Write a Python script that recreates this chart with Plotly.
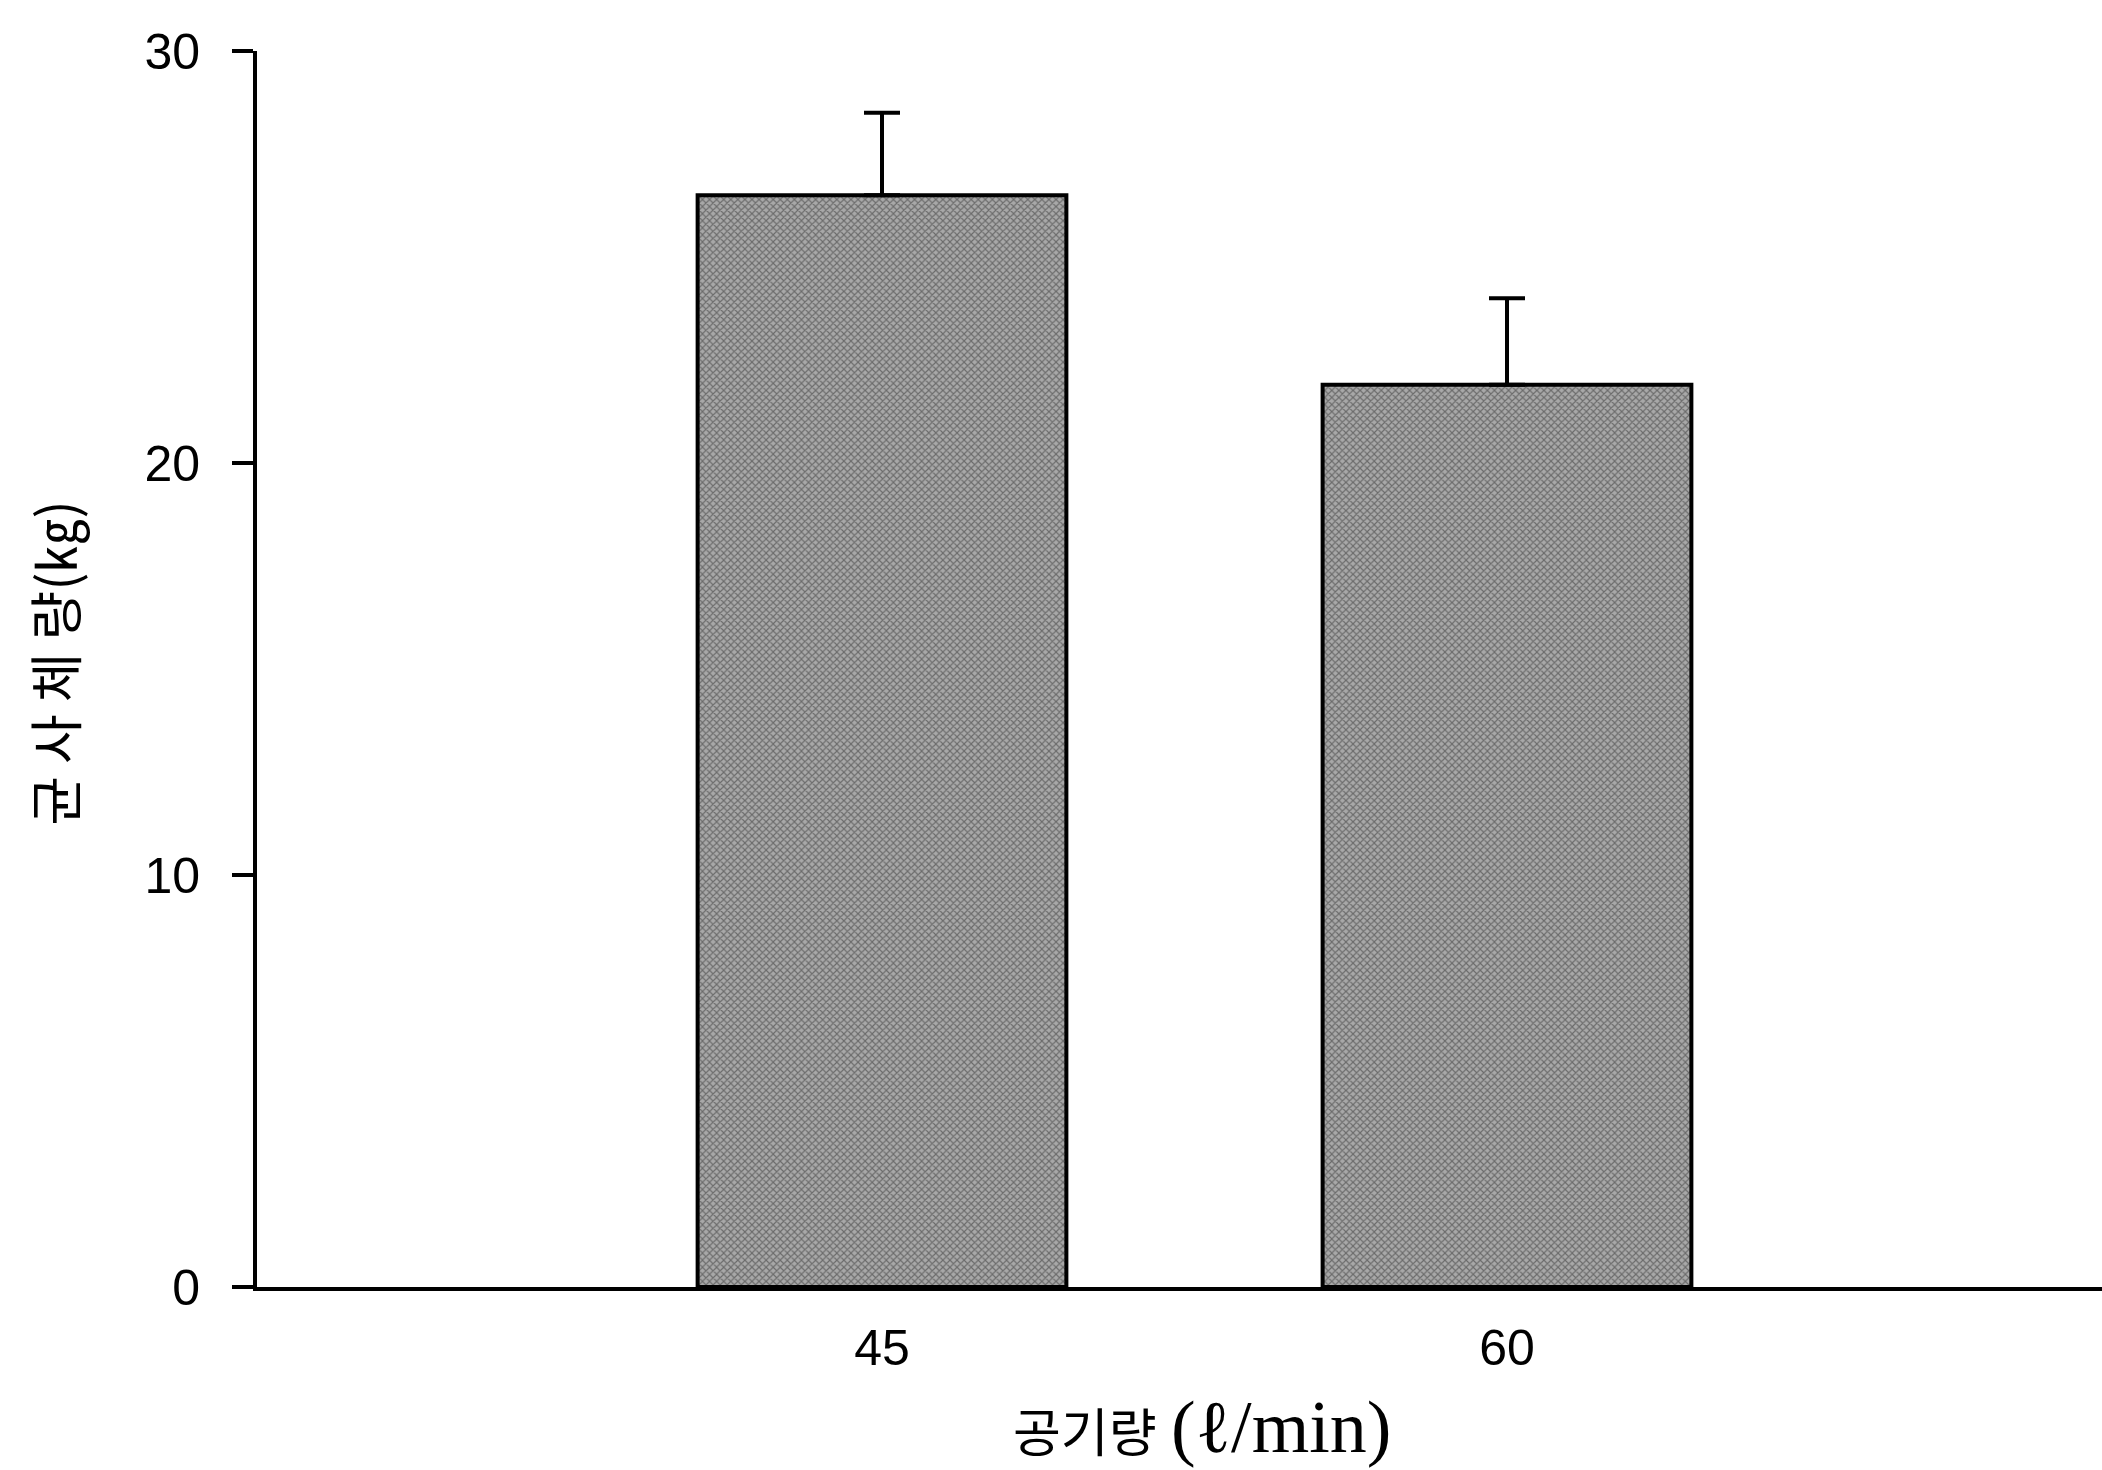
import plotly.graph_objects as go

# Mycelium yield by aeration rate
air_flow = ["45", "60"]
mycelium_kg = [26.5, 21.9]
std_err = [2.0, 2.1]
y_ticks = [0, 10, 20, 30]

fig = go.Figure()

fig.add_trace(go.Bar(
    x=air_flow,
    y=mycelium_kg,
    width=0.59,
    marker=dict(
        color="#959595",
        line=dict(color="black", width=4),
        pattern=dict(shape="x", size=5, solidity=0.4,
                     fgcolor="#2e2e2e", bgcolor="#a8a8a8"),
    ),
    error_y=dict(type="data", array=std_err, symmetric=False,
                 arrayminus=[0, 0], color="black", thickness=4, width=18),
    showlegend=False,
))

fig.update_layout(
    width=2102,
    height=1470,
    margin=dict(l=257, r=0, t=51, b=183),
    paper_bgcolor="white",
    plot_bgcolor="white",
    font=dict(family="Liberation Sans, Arial, sans-serif", size=50, color="black"),
    xaxis=dict(
        type="category",
        range=[-1, 1.952],
        showline=True, linecolor="black", linewidth=4,
        ticks="", showgrid=False, zeroline=False,
        ticklabelstandoff=14,
        tickfont=dict(size=50),
    ),
    yaxis=dict(
        range=[0, 30],
        tickvals=y_ticks,
        showline=True, linecolor="black", linewidth=4,
        ticks="outside", ticklen=21, tickwidth=4, tickcolor="black",
        showgrid=False, zeroline=False,
        ticklabelstandoff=22,
        tickfont=dict(size=50),
    ),
    bargap=0.4,
    annotations=[
        dict(
            text="<span style='font-family:Noto Sans CJK KR;font-size:52px'>공기량</span> "
                 "<span style='font-family:Liberation Serif;font-size:74px'>(ℓ/min)</span>",
            xref="paper", yref="paper", x=0.512, y=-0.113,
            xanchor="center", yanchor="middle", showarrow=False,
            font=dict(size=52, color="black"),
        ),
        dict(
            text="균 사 체 량(㎏)",
            xref="paper", yref="paper", x=-0.11, y=0.505,
            xanchor="center", yanchor="middle", showarrow=False,
            textangle=-90,
            font=dict(family="Noto Sans CJK KR", size=54, color="black"),
        ),
    ],
)

fig.write_html("out.html")
